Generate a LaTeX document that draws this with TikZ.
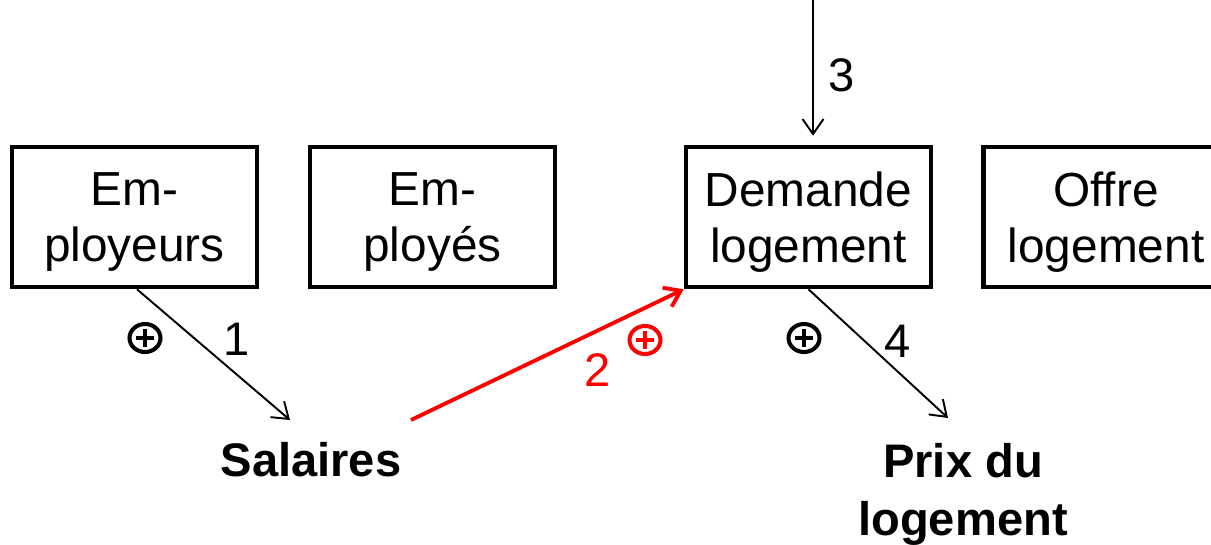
\documentclass[tikz,border=0pt]{standalone}
\usepackage{fontspec}
\setmainfont{Liberation Sans}
\usetikzlibrary{arrows.meta,positioning,calc,shapes.geometric}
\tikzstyle{box} = [rectangle, minimum width=4.9cm, minimum height=2.8cm, text centered, align=center, text depth=0pt, line width=2.6pt, draw=black, font=\fontsize{27.2}{32}\selectfont]
\tikzstyle{result} = [align=center, font=\bfseries\fontsize{26.8}{33}\selectfont]
\tikzstyle{num} = [font=\fontsize{26.8}{32}\selectfont, inner sep=0pt]
\tikzstyle{plus} = [ellipse, draw, line width=2.3pt, minimum width=0.62cm, minimum height=0.56cm, inner sep=0pt, path picture={\draw[line width=2.8pt] ([xshift=-0.18cm]path picture bounding box.center) -- ([xshift=0.18cm]path picture bounding box.center); \draw[line width=2.8pt] ([yshift=-0.18cm]path picture bounding box.center) -- ([yshift=0.18cm]path picture bounding box.center);}]
\tikzstyle{arrow} = [line width=1.1pt, -{Straight Barb[length=0.3cm,width=0.42cm]}]
\tikzstyle{redarrow} = [arrow, red, line width=2.2pt]

\begin{document}
\begin{tikzpicture}[node distance=2cm]
\useasboundingbox (0,0) rectangle (24.22,-10.88);
\node (emp) [box] at (2.69,-4.34) {Em-\\ployeurs};
\node (empl) [box, right of=emp, xshift=3.96cm] {Em-\\ployés};
\node (dem) [box, right of=empl, xshift=5.52cm] {Demande\\logement};
\node (off) [box, right of=dem, xshift=3.95cm] {Offre\\logement};
\node (sal) [result] at (6.22,-9.2) {Salaires};
\node (prix) [result] at (19.26,-9.88) {Prix du\\logement};
\coordinate (top) at (16.26,0);
\draw [arrow] ([xshift=0.05cm]emp.south) -- ([shift={(-0.42,0.8)}]sal.center);
\draw [redarrow] ([shift={(2.0,0.8)}]sal.center) -- (dem.south west);
\draw [arrow] (top) -- ($(top |- dem.north)+(0,0.18)$);
\draw [arrow] (dem.south) -- ([shift={(-0.3,1.52)}]prix.center);
\node (n1) [num] at (4.74,-6.78) {1};
\node (p1) [plus] at (2.9,-6.76) {};
\node (n2) [num, red] at (11.96,-7.4) {2};
\node (p2) [plus, red] at (12.9,-6.8) {};
\node (n3) [num] at (16.84,-1.5) {3};
\node (n4) [num] at (17.96,-6.82) {4};
\node (p4) [plus] at (16.08,-6.76) {};
\end{tikzpicture}
\end{document}
